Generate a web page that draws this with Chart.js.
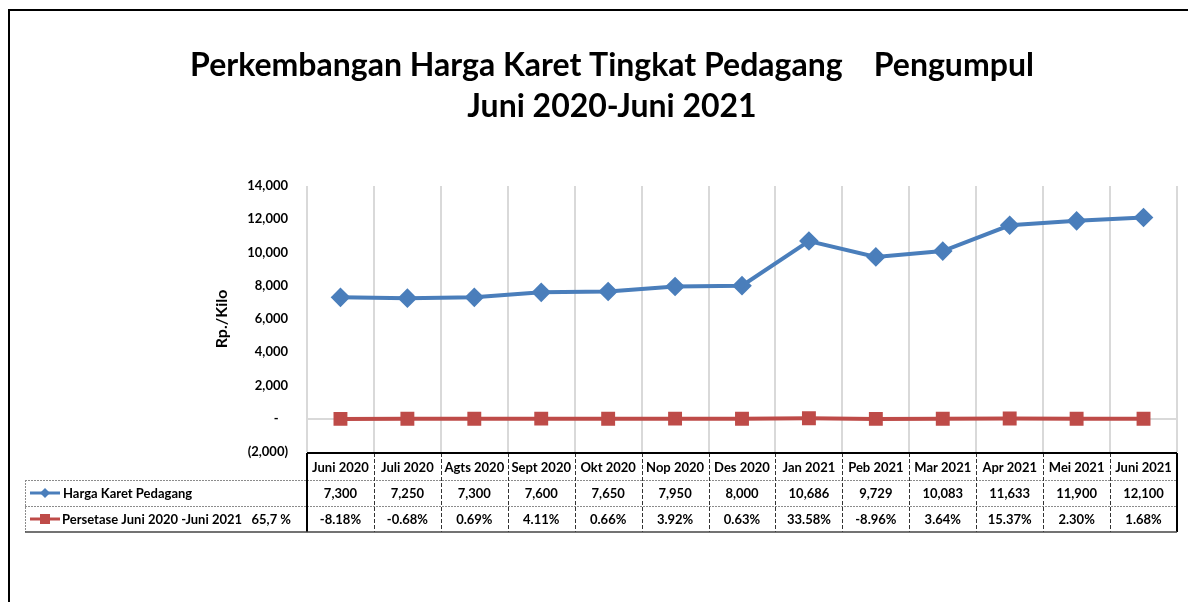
<!DOCTYPE html>
<html>
<head>
<meta charset="utf-8">
<script src="https://cdn.jsdelivr.net/npm/chart.js@4.4.0/dist/chart.umd.min.js"></script>
<style>
    body { margin: 0; background: #fff; }
    canvas { display: block; }
</style>
</head>
<body>
<canvas id="karetChart" width="1188" height="602"></canvas>
<script>
// Harga karet tingkat pedagang pengumpul, Juni 2020 - Juni 2021
const months = ['Juni 2020', 'Juli 2020', 'Agts 2020', 'Sept 2020', 'Okt 2020', 'Nop 2020', 'Des 2020',
                'Jan 2021', 'Peb 2021', 'Mar 2021', 'Apr 2021', 'Mei 2021', 'Juni 2021'];
const hargaKaret = [7300, 7250, 7300, 7600, 7650, 7950, 8000, 10686, 9729, 10083, 11633, 11900, 12100];
const persentase = [-8.18, -0.68, 0.69, 4.11, 0.66, 3.92, 0.63, 33.58, -8.96, 3.64, 15.37, 2.30, 1.68];
const hargaLabel = 'Harga Karet Pedagang';
const persenLabel = 'Persetase Juni 2020 -Juni 2021   65,7 %';

const BLUE = '#4a7ebb';
const RED = '#be4b48';
const FONT = 'Lato, "Open Sans", sans-serif';

function formatRibuan(v) {
    if (v === 0) return '-   ';
    const s = Math.abs(v).toLocaleString('en-US');
    return v < 0 ? '(' + s + ')' : s;
}

// frame around the whole picture
const framePlugin = {
    id: 'frame',
    beforeDraw(chart) {
        const ctx = chart.ctx;
        ctx.save();
        ctx.fillStyle = '#fff';
        ctx.fillRect(0, 0, chart.width, chart.height);
        ctx.strokeStyle = '#000';
        ctx.lineWidth = 2;
        ctx.strokeRect(9, 10, chart.width + 20, chart.height + 20);
        ctx.restore();
    }
};

// data table under the plot, Excel style
const tablePlugin = {
    id: 'dataTable',
    afterDraw(chart) {
        const ctx = chart.ctx;
        const x = chart.scales.x;
        const area = chart.chartArea;
        const colW = x.width / months.length;
        const top = area.bottom + 1;
        const rows = [top, top + 27, top + 53, top + 79];
        const legendLeft = 25;

        ctx.save();

        // horizontal dotted row lines
        ctx.strokeStyle = '#8c8c8c';
        ctx.lineWidth = 1;
        ctx.setLineDash([2, 1]);
        [rows[1], rows[2]].forEach(y => {
            ctx.beginPath();
            ctx.moveTo(legendLeft, y + 0.5);
            ctx.lineTo(x.right, y + 0.5);
            ctx.stroke();
        });
        // legend column left border
        ctx.beginPath();
        ctx.moveTo(legendLeft + 0.5, rows[1]);
        ctx.lineTo(legendLeft + 0.5, rows[3]);
        ctx.stroke();

        // dashed cell separators
        ctx.strokeStyle = '#333';
        ctx.setLineDash([4, 2]);
        for (let i = 1; i < months.length; i++) {
            const cx = Math.round(x.left + i * colW) + 0.5;
            ctx.beginPath();
            ctx.moveTo(cx, rows[0]);
            ctx.lineTo(cx, rows[3]);
            ctx.stroke();
        }

        // solid outer borders
        ctx.setLineDash([]);
        ctx.strokeStyle = '#000';
        ctx.lineWidth = 2;
        ctx.beginPath();
        ctx.moveTo(x.left, rows[0]);
        ctx.lineTo(x.right, rows[0]);
        ctx.moveTo(x.left, rows[0]);
        ctx.lineTo(x.left, rows[3]);
        ctx.moveTo(x.right, rows[0]);
        ctx.lineTo(x.right, rows[3]);
        ctx.stroke();
        ctx.strokeStyle = '#444';
        ctx.lineWidth = 1.5;
        ctx.beginPath();
        ctx.moveTo(legendLeft, rows[3]);
        ctx.lineTo(x.right, rows[3]);
        ctx.stroke();

        // cell texts
        ctx.fillStyle = '#000';
        ctx.font = 'bold 13px ' + FONT;
        ctx.textAlign = 'center';
        ctx.textBaseline = 'middle';
        months.forEach((m, i) => {
            const cx = x.getPixelForValue(i);
            ctx.fillText(m, cx, (rows[0] + rows[1]) / 2 + 1);
            ctx.fillText(hargaKaret[i].toLocaleString('en-US'), cx, (rows[1] + rows[2]) / 2 + 1);
            ctx.fillText(persentase[i].toFixed(2) + '%', cx, (rows[2] + rows[3]) / 2 + 1);
        });

        // legend keys
        const y1 = (rows[1] + rows[2]) / 2;
        const y2 = (rows[2] + rows[3]) / 2;
        ctx.lineWidth = 3;
        ctx.strokeStyle = BLUE;
        ctx.beginPath();
        ctx.moveTo(30, y1);
        ctx.lineTo(60, y1);
        ctx.stroke();
        ctx.fillStyle = BLUE;
        ctx.beginPath();
        ctx.moveTo(45, y1 - 5);
        ctx.lineTo(50, y1);
        ctx.lineTo(45, y1 + 5);
        ctx.lineTo(40, y1);
        ctx.closePath();
        ctx.fill();

        ctx.strokeStyle = RED;
        ctx.beginPath();
        ctx.moveTo(30, y2);
        ctx.lineTo(60, y2);
        ctx.stroke();
        ctx.fillStyle = RED;
        ctx.fillRect(40, y2 - 5, 10, 10);

        ctx.fillStyle = '#000';
        ctx.textAlign = 'left';
        ctx.fillText(hargaLabel, 63, y1 + 1);
        ctx.fillText(persenLabel, 62, y2 + 1);

        ctx.restore();
    }
};

const ctx = document.getElementById('karetChart').getContext('2d');
new Chart(ctx, {
    type: 'line',
    data: {
        labels: months,
        datasets: [{
            label: hargaLabel,
            data: hargaKaret,
            borderColor: BLUE,
            backgroundColor: BLUE,
            borderWidth: 4,
            pointStyle: 'rectRot',
            pointRadius: 7,
            pointHoverRadius: 7,
            tension: 0
        }, {
            label: persenLabel,
            data: persentase,
            borderColor: RED,
            backgroundColor: RED,
            borderWidth: 4,
            pointStyle: 'rect',
            pointRadius: 7,
            pointHoverRadius: 7,
            tension: 0
        }]
    },
    options: {
        responsive: false,
        animation: false,
        layout: {
            padding: { top: 45, left: 42, right: 6, bottom: 150 }
        },
        plugins: {
            legend: { display: false },
            tooltip: { enabled: false },
            title: {
                display: true,
                text: ['Perkembangan Harga Karet Tingkat Pedagang    Pengumpul', 'Juni 2020-Juni 2021'],
                color: '#000',
                font: { family: FONT, size: 32, weight: 'bold', lineHeight: 1.28 },
                padding: { top: 0, bottom: 59 }
            }
        },
        scales: {
            x: {
                offset: true,
                grid: {
                    offset: true,
                    color: '#d9d9d9',
                    lineWidth: 2,
                    drawTicks: false
                },
                border: { display: false },
                ticks: { display: false }
            },
            y: {
                min: -2000,
                max: 14000,
                afterFit(scale) { scale.width = 265; },
                grid: {
                    color: c => c.tick.value === 0 ? '#d9d9d9' : 'transparent',
                    lineWidth: 2,
                    drawTicks: false
                },
                border: { display: false },
                ticks: {
                    stepSize: 2000,
                    padding: 19,
                    color: '#000',
                    font: { family: FONT, size: 13, weight: 'bold' },
                    callback: v => formatRibuan(v)
                },
                title: {
                    display: true,
                    text: 'Rp./Kilo',
                    color: '#000',
                    font: { family: FONT, size: 16, weight: 'bold' },
                    padding: { top: 170, bottom: 0 }
                }
            }
        }
    },
    plugins: [framePlugin, tablePlugin]
});
</script>
</body>
</html>
